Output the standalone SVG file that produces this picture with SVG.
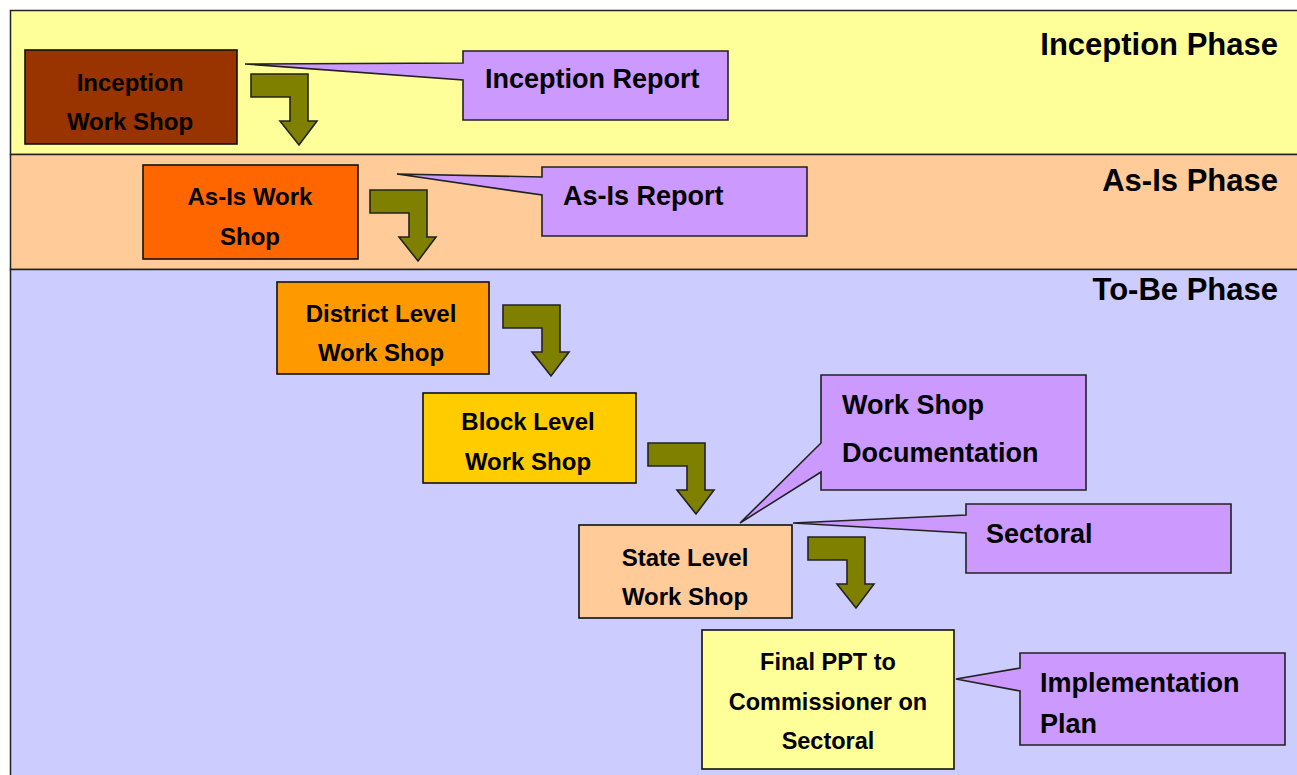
<svg xmlns="http://www.w3.org/2000/svg" xmlns:xlink="http://www.w3.org/1999/xlink" width="1297" height="775" viewBox="0 0 1297 775">
<style>
text{font-family:"Liberation Sans",Arial,sans-serif;font-weight:bold;fill:#000}
.band{stroke:#222;stroke-width:1.5}
.node{stroke:#111;stroke-width:1.6}
.call{fill:#CC99FF;stroke:#222;stroke-width:1.6;stroke-linejoin:miter}
.nt{font-size:24px;text-anchor:middle}
.ft{font-size:23.5px;text-anchor:middle}
.ct{font-size:27px}
.pt{font-size:31px;text-anchor:end}
.arr{fill:#808000;stroke:#222;stroke-width:1.6;stroke-linejoin:miter}
</style>
<defs>
<path id="bent" d="M0,0 H57 V47 H66 L48,71 L29,47 H39 V23 H0 Z"/>
</defs>
<rect width="1297" height="775" fill="#fff"/>
<g id="bands">
<rect class="band" x="10.5" y="10.5" width="1300" height="144" fill="#FFFF99"/>
<rect class="band" x="10.5" y="154.5" width="1300" height="115" fill="#FFCC99"/>
<rect class="band" x="10.5" y="269.5" width="1300" height="520" fill="#CCCCFF"/>
<text class="pt" x="1278" y="55">Inception Phase</text>
<text class="pt" x="1278" y="191">As-Is Phase</text>
<text class="pt" x="1278" y="300">To-Be Phase</text>
</g>
<g id="connectors">
<use href="#bent" xlink:href="#bent" class="arr" x="251" y="74"/>
<use href="#bent" xlink:href="#bent" class="arr" x="370" y="190"/>
<use href="#bent" xlink:href="#bent" class="arr" x="503" y="305"/>
<use href="#bent" xlink:href="#bent" class="arr" x="648" y="443"/>
<use href="#bent" xlink:href="#bent" class="arr" x="808" y="537"/>
</g>
<g id="n-inception">
<rect class="node" x="25" y="50" width="212" height="94" fill="#993300"/>
<text class="nt" x="130" y="91">Inception</text>
<text class="nt" x="130" y="130">Work Shop</text>
</g>
<g id="n-asis">
<rect class="node" x="143" y="165" width="215" height="94" fill="#FF6600"/>
<text class="nt" x="250" y="205">As-Is Work</text>
<text class="nt" x="250" y="245">Shop</text>
</g>
<g id="n-district">
<rect class="node" x="277" y="282" width="212" height="92" fill="#FF9900"/>
<text class="nt" x="381" y="322">District Level</text>
<text class="nt" x="381" y="361">Work Shop</text>
</g>
<g id="n-block">
<rect class="node" x="423" y="393" width="213" height="90" fill="#FFCC00"/>
<text class="nt" x="528" y="430">Block Level</text>
<text class="nt" x="528" y="470">Work Shop</text>
</g>
<g id="n-state">
<rect class="node" x="579" y="525" width="213" height="93" fill="#FFCC99"/>
<text class="nt" x="685" y="566">State Level</text>
<text class="nt" x="685" y="605">Work Shop</text>
</g>
<g id="n-final">
<rect class="node" x="702" y="630" width="252" height="139" fill="#FFFF99"/>
<text class="ft" x="828" y="670">Final PPT to</text>
<text class="ft" x="828" y="710">Commissioner on</text>
<text class="ft" x="828" y="749">Sectoral</text>
</g>
<g id="c-inception-report">
<path class="call" d="M463,51 H728 V120 H463 V80 L245,64 L463,63 Z"/>
<text class="ct" x="485" y="88">Inception Report</text>
</g>
<g id="c-asis-report">
<path class="call" d="M542,167 H807 V236 H542 V195 L397,174 L542,177 Z"/>
<text class="ct" x="563" y="205">As-Is Report</text>
</g>
<g id="c-workshop-doc">
<path class="call" d="M821,375 H1086 V490 H821 V472 L740,523 L821,443 Z"/>
<text class="ct" x="842" y="414">Work Shop</text>
<text class="ct" x="842" y="462">Documentation</text>
</g>
<g id="c-sectoral">
<path class="call" d="M966,504 H1231 V573 H966 V533 L793,523 L966,515 Z"/>
<text class="ct" x="986" y="543">Sectoral</text>
</g>
<g id="c-implementation">
<path class="call" d="M1020,653 H1285 V745 H1020 V691 L956,679 L1020,668 Z"/>
<text class="ct" x="1040" y="692">Implementation</text>
<text class="ct" x="1040" y="733">Plan</text>
</g>
</svg>
